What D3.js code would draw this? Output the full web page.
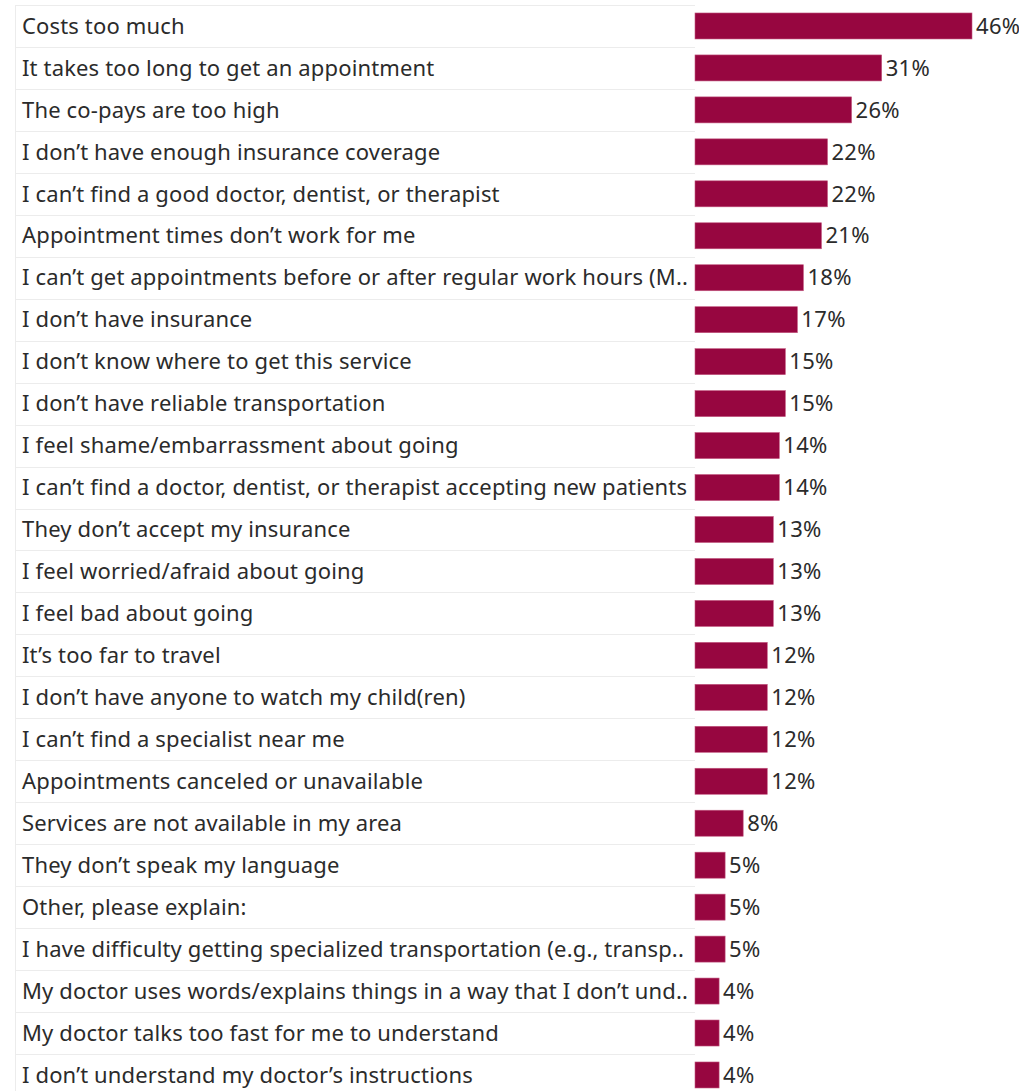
<!DOCTYPE html>
<html>
<head>
<meta charset="utf-8">
<script src="https://cdn.jsdelivr.net/npm/d3@7"></script>
<style>
  body { margin: 0; background: #fff; }
  text { font-family: "Noto Sans", "Open Sans", sans-serif; }
</style>
</head>
<body>
<svg id="main" width="1035" height="1091"></svg>
<script>
// reasons, in display order
const reasons = [
  'Costs too much',
  'It takes too long to get an appointment',
  'The co-pays are too high',
  'I don\u2019t have enough insurance coverage',
  'I can\u2019t find a good doctor, dentist, or therapist',
  'Appointment times don\u2019t work for me',
  'I can\u2019t get appointments before or after regular work hours (M..',
  'I don\u2019t have insurance',
  'I don\u2019t know where to get this service',
  'I don\u2019t have reliable transportation',
  'I feel shame/embarrassment about going',
  'I can\u2019t find a doctor, dentist, or therapist accepting new patients',
  'They don\u2019t accept my insurance',
  'I feel worried/afraid about going',
  'I feel bad about going',
  'It\u2019s too far to travel',
  'I don\u2019t have anyone to watch my child(ren)',
  'I can\u2019t find a specialist near me',
  'Appointments canceled or unavailable',
  'Services are not available in my area',
  'They don\u2019t speak my language',
  'Other, please explain:',
  'I have difficulty getting specialized transportation (e.g., transp..',
  'My doctor uses words/explains things in a way that I don\u2019t und..',
  'My doctor talks too fast for me to understand',
  'I don\u2019t understand my doctor\u2019s instructions'
];

const percents = [46, 31, 26, 22, 22, 21, 18, 17, 15, 15, 14, 14, 13, 13, 13, 12, 12, 12, 12, 8, 5, 5, 5, 4, 4, 4];

const data = reasons.map((r, i) => ({ reason: r, value: percents[i] }));

let
  leftEdge = 15,
  topEdge = 5,
  split = 695,
  rowH = 41.96,
  clipRight = 1019;

let svg = d3.select('#main');

svg.append('clipPath').attr('id', 'clip')
  .append('rect')
  .attr('x', 0).attr('y', 0)
  .attr('width', clipRight).attr('height', 1091);

let g = svg.append('g').attr('clip-path', 'url(#clip)');

let y = d3.scaleBand()
  .domain(reasons)
  .range([topEdge, topEdge + rowH * reasons.length])
  .paddingInner(0)
  .paddingOuter(0);

let x = d3.scaleLinear()
  .domain([0, 46])
  .range([split, 972]);

// row grid lines
g.append('g')
  .selectAll('line')
  .data(reasons)
  .enter()
  .append('line')
  .attr('x1', leftEdge)
  .attr('x2', split)
  .attr('y1', d => Math.round(y(d)) + 0.5)
  .attr('y2', d => Math.round(y(d)) + 0.5)
  .attr('stroke', '#ececec')
  .attr('stroke-width', 1);

// left border
g.append('line')
  .attr('x1', leftEdge + 0.5).attr('x2', leftEdge + 0.5)
  .attr('y1', topEdge).attr('y2', 1091)
  .attr('stroke', '#ececec');

// labels
g.append('g')
  .selectAll('text')
  .data(data)
  .enter()
  .append('text')
  .attr('x', 22)
  .attr('y', d => y(d.reason) + y.bandwidth() / 2)
  .attr('dy', '0.35em')
  .attr('font-size', 22)
  .attr('letter-spacing', 0.15)
  .attr('fill', '#2b2b2b')
  .text(d => d.reason);

const barH = 26;

// bars
g.append('g')
  .selectAll('rect')
  .data(data)
  .enter()
  .append('rect')
  .attr('x', x(0))
  .attr('y', d => y(d.reason) + (y.bandwidth() - barH) / 2)
  .attr('width', d => x(d.value) - x(0))
  .attr('height', barH)
  .attr('fill', '#970640')
  .attr('stroke', '#c2577f')
  .attr('stroke-width', 0.6);

// value labels
g.append('g')
  .selectAll('text')
  .data(data)
  .enter()
  .append('text')
  .attr('x', d => x(d.value) + 4)
  .attr('y', d => y(d.reason) + y.bandwidth() / 2)
  .attr('dy', '0.35em')
  .attr('font-size', 22)
  .attr('letter-spacing', 0.3)
  .attr('fill', '#2b2b2b')
  .text(d => d.value + '%');
</script>
</body>
</html>
